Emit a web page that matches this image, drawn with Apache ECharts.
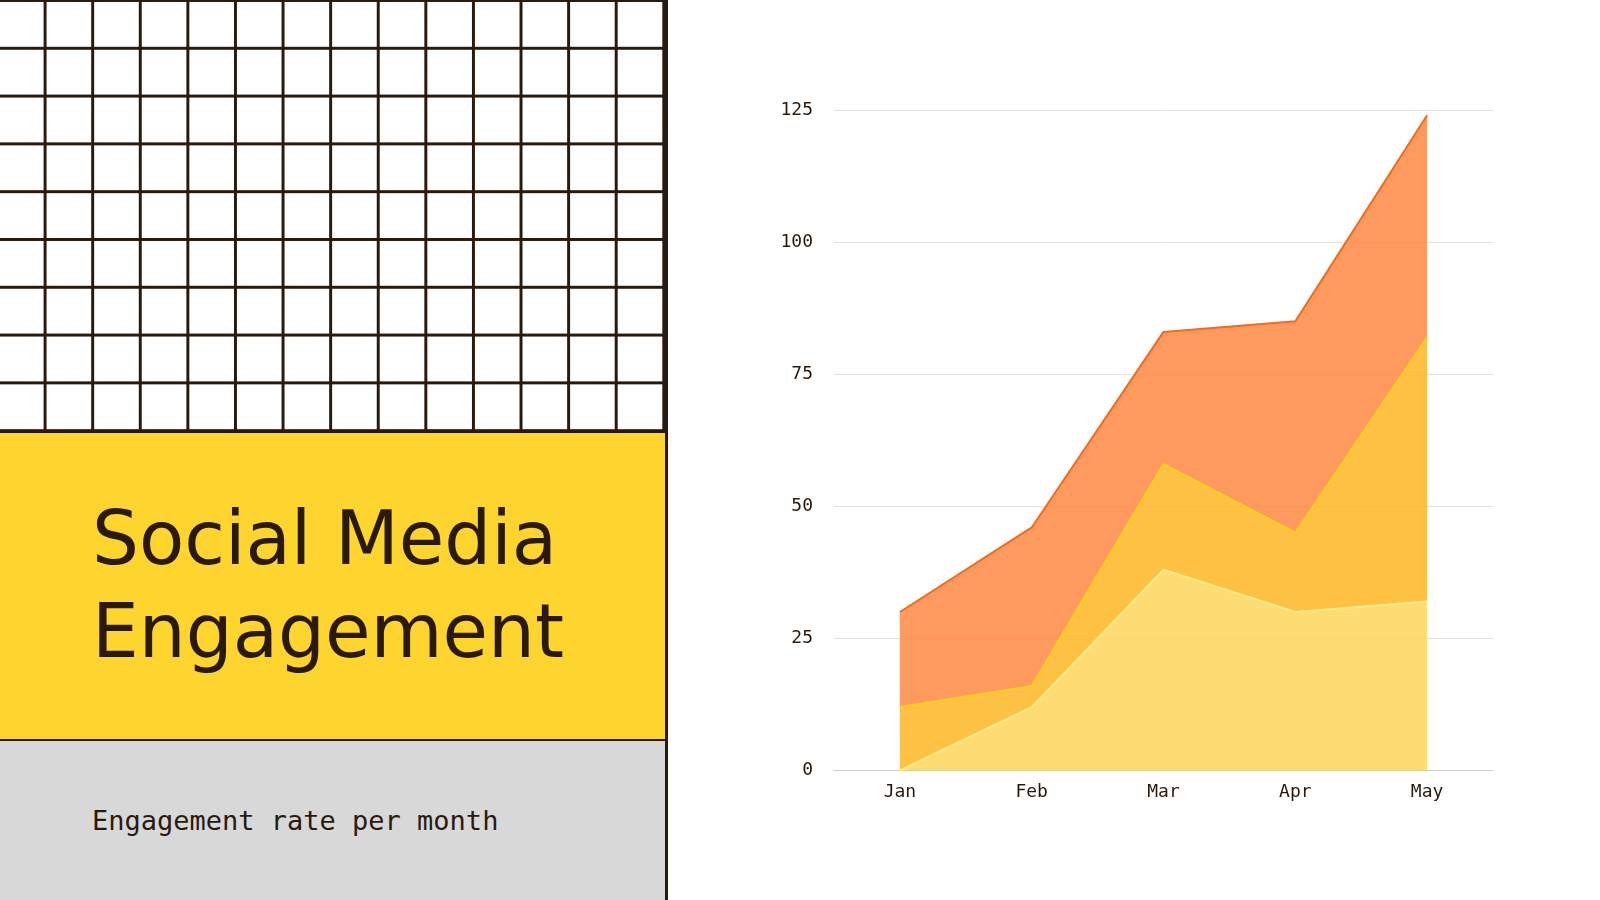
<!DOCTYPE html>
<html>
<head>
<meta charset="utf-8">
<script src="https://cdn.jsdelivr.net/npm/echarts@6/dist/echarts.min.js"></script>
<style>
    html, body { margin: 0; padding: 0; background: #fff; }
    body { width: 1600px; height: 900px; position: relative; overflow: hidden; }
    #panel {
        position: absolute; left: 0; top: 0; width: 665px; height: 900px;
        border-right: 3px solid #2a1a0e;
    }
    #grid {
        position: absolute; left: 0; top: 0; width: 665px; height: 430px;
        background-color: #fff;
        background-image:
            linear-gradient(to right, #2a1a0e 3px, transparent 3px),
            linear-gradient(to bottom, #2a1a0e 3px, transparent 3px);
        background-size: 47.6px 47.8px;
        background-position: -4px -1px;
    }
    #band {
        position: absolute; left: 0; top: 430px; width: 665px; height: 306px;
        background: #fed52f;
        border-top: 3px solid #2a1a0e;
        border-bottom: 2px solid #2a1a0e;
    }
    #foot {
        position: absolute; left: 0; top: 741px; width: 665px; height: 159px;
        background: #d8d8d8;
    }
    #title {
        position: absolute; left: 92px; top: 492px;
        font-family: "DejaVu Sans", sans-serif; font-size: 74px; line-height: 93px;
        color: #2a1a0e; white-space: nowrap;
    }
    #sub {
        position: absolute; left: 92px; top: 807px;
        font-family: "DejaVu Sans Mono", monospace; font-size: 27px; line-height: 1;
        color: #2a1a0e; white-space: nowrap;
    }
    #chart { position: absolute; left: 668px; top: 0; width: 932px; height: 900px; }
</style>
</head>
<body>
<div id="panel">
    <div id="grid"></div>
    <div id="band"></div>
    <div id="foot"></div>
</div>
<div id="title">Social Media<br>Engagement</div>
<div id="sub">Engagement rate per month</div>
<div id="chart"></div>
<script>
// months on the x axis
var months = ["Jan", "Feb", "Mar", "Apr", "May"];
// stacked layers, bottom to top
var layerLow = [0, 12, 38, 30, 32];
var layerMid = [12, 4, 20, 15, 50];
var layerTop = [18, 30, 25, 40, 42];

var ink = "#2a1a0e";

var myChart = echarts.init(document.getElementById("chart"));

function layer(name, data, fill, line) {
    return {
        name: name,
        type: "line",
        stack: "total",
        data: data,
        showSymbol: false,
        symbol: "none",
        lineStyle: { color: line, width: 2 },
        areaStyle: { color: fill, opacity: 0.85 },
        itemStyle: { color: line },
    };
}

var option = {
    animation: false,
    grid: {
        left: 166,
        right: 107,
        top: 110,
        bottom: 129.5,
    },
    xAxis: {
        type: "category",
        data: months,
        boundaryGap: true,
        axisLine: { lineStyle: { color: "#cccccc", width: 1 } },
        axisTick: { show: false },
        axisLabel: {
            color: ink,
            fontFamily: "DejaVu Sans Mono",
            fontSize: 18,
            margin: 13,
        },
    },
    yAxis: {
        type: "value",
        min: 0,
        max: 125,
        interval: 25,
        axisLine: { show: false },
        axisTick: { show: false },
        splitLine: { lineStyle: { color: "#e2e2e2", width: 1 } },
        axisLabel: {
            color: ink,
            fontFamily: "DejaVu Sans Mono",
            fontSize: 18,
            margin: 21,
        },
    },
    series: [
        layer("Low", layerLow, "#fdd65b", "#ffea8c"),
        layer("Mid", layerMid, "#fdb623", "#ffd21a"),
        layer("Top", layerTop, "#ff8843", "#f26b1d"),
    ],
};
myChart.setOption(option);
</script>
</body>
</html>
